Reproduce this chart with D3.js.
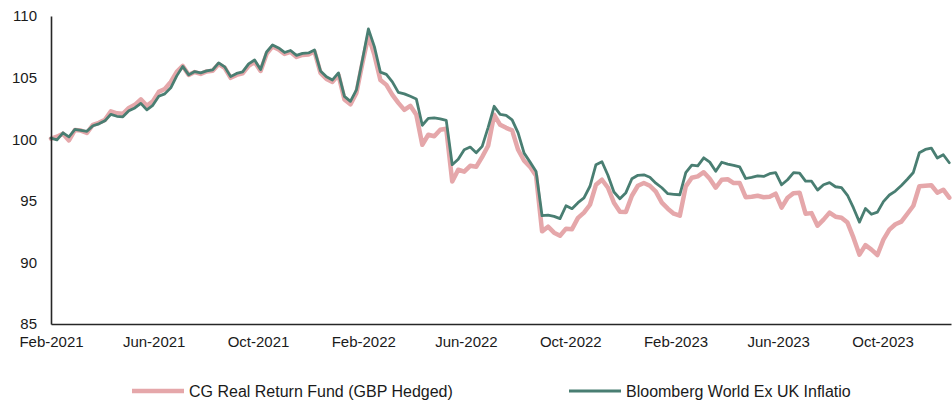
<!DOCTYPE html>
<html>
<head>
<meta charset="utf-8">
<script src="https://cdn.jsdelivr.net/npm/d3@7"></script>
<style>
  html, body { margin: 0; padding: 0; background: #fff; }
  svg { display: block; font-family: "Liberation Sans", Arial, sans-serif; }
</style>
</head>
<body>
<svg id="chart" width="952" height="403"></svg>
<script>
// ---- data (weekly observations from Feb-2021) ----
const seriesNames = ["CG Real Return Fund (GBP Hedged)", "Bloomberg World Ex UK Inflatio"];
const startDate = "2021-02-01";
const endDate = "2023-12-20";
const yTicks = [85, 90, 95, 100, 105, 110];
const xTickLabels = ["Feb-2021", "Jun-2021", "Oct-2021", "Feb-2022", "Jun-2022", "Oct-2022", "Feb-2023", "Jun-2023", "Oct-2023"];

const cgFund = [100.05, 100.2, 100.45, 99.9, 100.75, 100.7, 100.5, 101.17, 101.33, 101.57,
102.26, 102.10, 102.06, 102.54, 102.79, 103.23, 102.71, 103.07, 103.84, 104.08,
104.65, 105.46, 105.95, 105.22, 105.45, 105.3, 105.5, 105.55, 106.1, 105.8,
104.98, 105.22, 105.34, 105.95, 106.27, 105.54, 106.92, 107.53, 107.29, 106.92,
107.08, 106.68, 106.84, 106.88, 107.12, 105.38, 104.89, 104.65, 105.22, 103.23,
102.83, 103.76, 106.19, 108.4, 106.84, 104.81, 104.41, 103.60, 102.95, 102.38,
102.71, 101.98, 99.55, 100.36, 100.24, 100.76, 100.85, 96.57, 97.52, 97.36,
97.84, 97.76, 98.57, 99.47, 101.98, 101.17, 100.92, 100.72, 99.14, 98.25,
97.76, 97.03, 92.52, 92.90, 92.41, 92.17, 92.74, 92.7, 93.61, 94.04,
94.68, 96.30, 96.71, 96.06, 94.85, 94.12, 94.1, 95.41, 96.22, 96.44,
96.22, 95.74, 94.85, 94.36, 93.95, 93.79, 96.17, 96.87, 96.98, 97.32,
96.79, 96.06, 96.71, 96.75, 96.44, 96.44, 95.29, 95.33, 95.41, 95.29,
95.33, 95.58, 94.44, 95.25, 95.62, 95.66, 93.95, 94.0, 92.98, 93.47,
94.04, 93.71, 93.63, 93.23, 92.01, 90.63, 91.40, 91.04, 90.6, 91.85,
92.66, 93.10, 93.31, 93.95, 94.60, 96.18, 96.22, 96.26, 95.66, 95.90, 95.25];

const bbgIndex = [100.09, 99.95, 100.52, 100.19, 100.80, 100.72, 100.64, 101.09, 101.25, 101.49,
102.02, 101.86, 101.82, 102.30, 102.54, 102.91, 102.38, 102.75, 103.48, 103.68,
104.17, 105.14, 105.91, 105.22, 105.49, 105.38, 105.54, 105.62, 106.19, 105.87,
105.08, 105.34, 105.46, 106.11, 106.43, 105.66, 107.08, 107.65, 107.41, 107.04,
107.20, 106.80, 106.96, 107.00, 107.24, 105.54, 105.06, 104.81, 105.38, 103.48,
103.07, 104.00, 106.43, 108.95, 107.51, 105.44, 105.26, 104.65, 103.80, 103.68,
103.48, 103.27, 101.13, 101.69, 101.73, 101.65, 101.53, 97.93, 98.37, 99.14,
99.36, 98.90, 99.42, 100.96, 102.67, 102.02, 101.94, 101.57, 100.52, 98.87,
98.14, 97.38, 93.79, 93.83, 93.74, 93.55, 94.60, 94.36, 94.85, 95.23,
96.18, 97.93, 98.17, 97.07, 95.71, 95.17, 95.66, 96.79, 97.07, 97.11,
96.91, 96.43, 96.06, 95.58, 95.53, 95.49, 97.28, 97.90, 97.84, 98.49,
98.14, 97.40, 98.13, 97.98, 97.88, 97.76, 96.81, 96.91, 97.03, 96.98,
97.20, 97.28, 96.30, 96.71, 97.29, 97.24, 96.59, 96.59, 95.87, 96.30,
96.47, 96.14, 96.06, 95.45, 94.42, 93.27, 94.38, 93.91, 94.08, 94.93,
95.47, 95.79, 96.24, 96.75, 97.30, 98.90, 99.17, 99.28, 98.47, 98.74, 98.09];

const colors = ["#E5A7AA", "#497E72"];
const widths = [4.5, 2.8];

// ---- drawing ----
const svg = d3.select("#chart");
const W = 952, H = 403;
const margin = { left: 51, right: 1, top: 16, bottom: 79 };

const parseISO = d3.timeParse("%Y-%m-%d");
const t0 = parseISO(startDate);
const dates = cgFund.map((_, i) => d3.timeDay.offset(t0, 7 * i));

const x = d3.scaleTime()
  .domain([t0, parseISO(endDate)])
  .range([margin.left, W - margin.right]);
const y = d3.scaleLinear()
  .domain([85, 110])
  .range([H - margin.bottom, margin.top]);

const parseTick = d3.timeParse("%b-%Y");
const fmtTick = d3.timeFormat("%b-%Y");

// lines
const line = d3.line()
  .x((d, i) => x(dates[i]))
  .y(d => y(d))
  .curve(d3.curveLinear);

[cgFund, bbgIndex].forEach((s, k) => {
  svg.append("path")
    .datum(s)
    .attr("fill", "none")
    .attr("stroke", colors[k])
    .attr("stroke-width", widths[k])
    .attr("stroke-linejoin", "round")
    .attr("stroke-linecap", "round")
    .attr("d", line);
});

// y axis
const yAxis = svg.append("g")
  .attr("transform", `translate(${margin.left},0)`)
  .call(d3.axisLeft(y).tickValues(yTicks).tickSize(0).tickPadding(14).tickFormat(d3.format("d")));
yAxis.select(".domain").attr("stroke", "#262626").attr("stroke-width", 1.6);
yAxis.selectAll("text").attr("font-size", 15).attr("fill", "#1a1a1a")
  .attr("font-family", "Liberation Sans, Arial, sans-serif");

// x axis
const xAxis = svg.append("g")
  .attr("transform", `translate(0,${H - margin.bottom})`)
  .call(d3.axisBottom(x).tickValues(xTickLabels.map(parseTick)).tickSize(0).tickPadding(12).tickFormat(fmtTick));
xAxis.select(".domain").attr("stroke", "#262626").attr("stroke-width", 1.6);
xAxis.selectAll("text").attr("font-size", 15).attr("fill", "#1a1a1a")
  .attr("font-family", "Liberation Sans, Arial, sans-serif");

// legend
const legendY = 391;
const legendX = [132, 569];
seriesNames.forEach((name, k) => {
  const g = svg.append("g").attr("transform", `translate(${legendX[k]},${legendY})`);
  g.append("line").attr("x1", 0).attr("x2", 52).attr("y1", 0).attr("y2", 0)
    .attr("stroke", colors[k]).attr("stroke-width", widths[k]);
  g.append("text").attr("x", 57).attr("y", 0).attr("dy", "0.35em")
    .attr("font-size", 16).attr("fill", "#1a1a1a").text(name);
});
</script>
</body>
</html>
